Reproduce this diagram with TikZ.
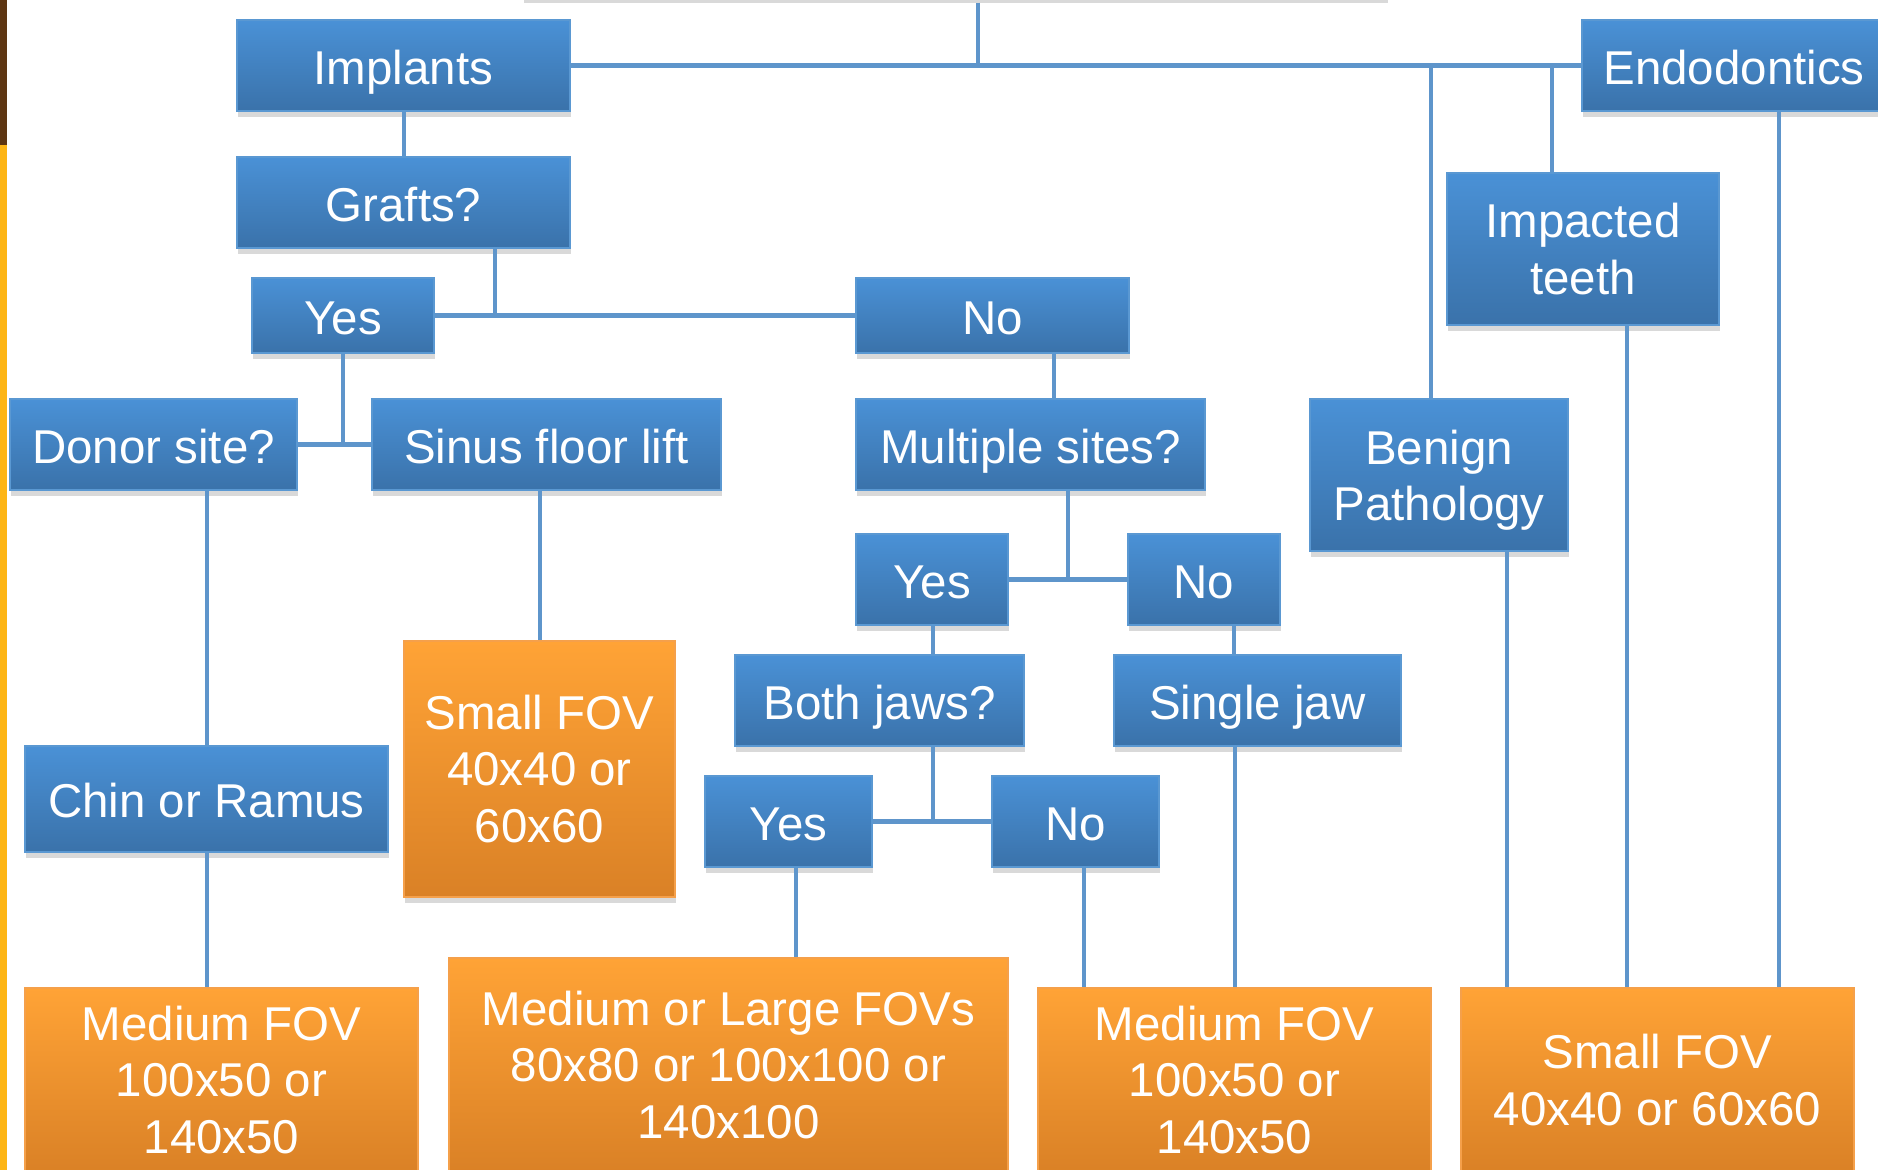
\documentclass[tikz,border=0pt]{standalone}
\usepackage{fontspec}
\setmainfont{Liberation Sans}
\usetikzlibrary{shadows}
\definecolor{bluetop}{HTML}{4A91D6}
\definecolor{bluebot}{HTML}{3A72AA}
\definecolor{blueedge}{HTML}{5A98D2}
\definecolor{orgtop}{HTML}{FFA336}
\definecolor{orgbot}{HTML}{DA8126}
\definecolor{orgedge}{HTML}{F5A04A}
\definecolor{wirec}{HTML}{5E95CB}
\definecolor{barbrown}{HTML}{5E3613}
\definecolor{baryellow}{HTML}{FDB515}

\begin{document}
\begin{tikzpicture}[x=0.01cm,y=-0.01cm,
  sz/.style 2 args={minimum width=#1*0.01cm,minimum height=#2*0.01cm},
  box/.style={rectangle,inner sep=0pt,align=center,text=white,
    font=\fontsize{13.5}{16}\selectfont,
    top color=bluetop,bottom color=bluebot,draw=blueedge,line width=0.4pt,
    drop shadow={shadow xshift=0.4pt,shadow yshift=-1.6pt,opacity=0.3}},
  blk/.style={box,
    execute at begin node={\rule{0pt}{1em}},
    execute at end node={\rule[-0.2em]{0pt}{0.2em}}},
  res/.style={box,top color=orgtop,bottom color=orgbot,draw=orgedge},
  wire/.style={draw=wirec,line width=1.4pt}]
  \useasboundingbox (0,0) rectangle (1878,1170);
  \clip (0,0) rectangle (1878,1170);
  \fill[barbrown] (0,0) rectangle (7,145);
  \fill[baryellow] (0,145) rectangle (7,1170);

  % question boxes
  \node[box,sz={864}{60}] (root) at (955,-33) {};
  \node[blk,sz={333}{91}] (impl) at (403.5,65.5) {Implants};
  \node[blk,sz={304}{91}] (endo) at (1734,65.5) {Endodontics};
  \node[blk,sz={333}{91}] (graft) at (403.5,202.5) {Grafts?};
  \node[blk,sz={182}{75}] (yesA) at (343,315.5) {Yes};
  \node[blk,sz={273}{75}] (noA) at (992.5,315.5) {No};
  \node[blk,sz={287}{91}] (donor) at (153.5,444.5) {Donor site?};
  \node[blk,sz={349}{91}] (sinus) at (546.5,444.5) {Sinus floor lift};
  \node[blk,sz={349}{91}] (multi) at (1030.5,444.5) {Multiple sites?};
  \node[blk,sz={152}{91}] (yesB) at (932,579.5) {Yes};
  \node[blk,sz={152}{91}] (noB) at (1204,579.5) {No};
  \node[blk,sz={289}{91}] (both) at (879.5,700.5) {Both jaws?};
  \node[blk,sz={287}{91}] (single) at (1257.5,700.5) {Single jaw};
  \node[blk,sz={167}{91}] (yesC) at (788.5,821.5) {Yes};
  \node[blk,sz={167}{91}] (noC) at (1075.5,821.5) {No};
  \node[blk,sz={363}{106}] (chin) at (206.5,799) {Chin or Ramus};
  \node[box,sz={258}{152}] (benign) at (1439,475) {Benign\\\smash{Pathology}};
  \node[box,sz={272}{152}] (impact) at (1583,249) {Impacted\\teeth};

  % FOV results
  \node[res,sz={271}{256}] (smallA) at (539.5,769) {Small FOV\\40x40 or\\60x60};
  \node[res,sz={393}{184}] (medA) at (221.5,1080) {Medium FOV\\100x50 or\\140x50};
  \node[res,sz={559}{214}] (large) at (728.5,1065) {Medium or Large FOVs\\80x80 or 100x100 or\\140x100};
  \node[res,sz={393}{184}] (medB) at (1234.5,1080) {Medium FOV\\100x50 or\\140x50};
  \node[res,sz={393}{184}] (smallB) at (1657.5,1080) {Small FOV\\40x40 or 60x60};

  % connectors
  \coordinate (jT) at (978,65.5); \coordinate (jB) at (1431,65.5);
  \coordinate (jI) at (1552,65.5); \coordinate (jG) at (495,315.5);
  \coordinate (jM) at (1068,579.5); \coordinate (jC) at (933,821.5);
  \draw[wire] (impl) -- (endo);
  \draw[wire] ([yshift=-5*0.01cm]root.south -| jT) -- (jT);
  \draw[wire] (jB) -- (jB |- benign.north);
  \draw[wire] (jI) -- (jI |- impact.north);
  \draw[wire] (yesA) -- (noA); \draw[wire] (graft.south -| jG) -- (jG);
  \draw[wire] (donor) -- (sinus); \draw[wire] (yesA) -- (yesA |- donor);
  \draw[wire] (yesB) -- (noB); \draw[wire] (multi.south -| jM) -- (jM);
  \draw[wire] (yesC) -- (noC); \draw[wire] (both.south -| jC) -- (jC);
  \foreach \a/\b/\x in {impl/graft/404,noA/multi/1054,donor/chin/207,chin/medA/207,
      sinus/smallA/540,yesB/both/933,noB/single/1234,yesC/large/796,noC/medB/1084,
      single/medB/1235,benign/smallB/1507,impact/smallB/1627,endo/smallB/1779}{
    \coordinate (xx) at (\x,0);
    \draw[wire] (\a.south -| xx) -- (\b.north -| xx);
  }
\end{tikzpicture}
\end{document}
